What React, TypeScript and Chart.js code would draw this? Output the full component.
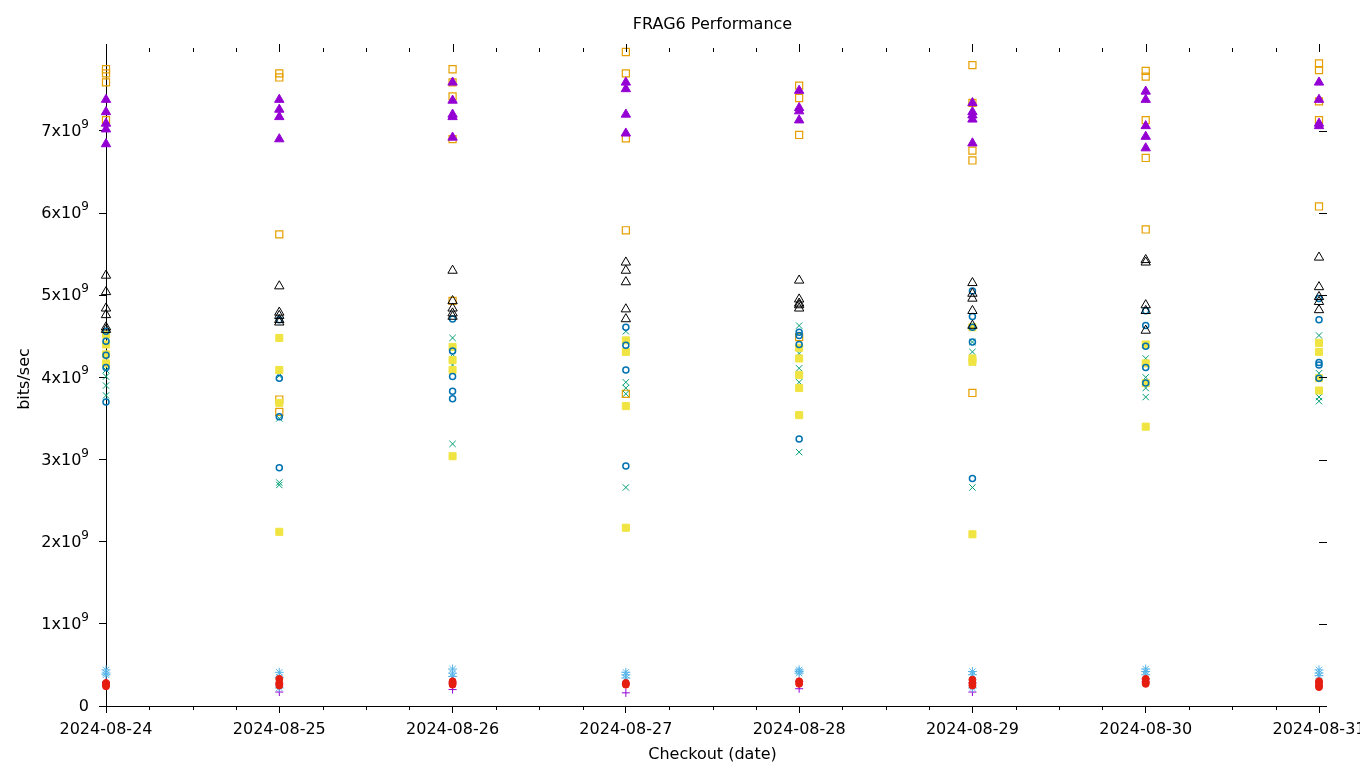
import React, { useEffect, useRef } from 'react';
import { Chart, registerables } from 'chart.js';

Chart.register(...registerables);

const chartTitle = 'FRAG6 Performance';
const xTitle = 'Checkout (date)';
const yTitle = 'bits/sec';
const dateLabels = ['2024-08-24', '2024-08-25', '2024-08-26', '2024-08-27', '2024-08-28', '2024-08-29', '2024-08-30', '2024-08-31'];
const yTickMantissas = [0, 1, 2, 3, 4, 5, 6, 7];
const yMax = 7.96e9;

// values in units of 1e9 bits/sec; one inner list per checkout date
const s1Plus = [[0.29, 0.27], [0.17, 0.27], [0.20, 0.28], [0.16, 0.27], [0.21, 0.30], [0.17, 0.28], [0.30, 0.33], [0.25, 0.30]];
const s2Cross = [[4.09, 4.01, 3.90, 3.78], [4.02, 3.50, 2.72, 2.69], [4.48, 4.28, 4.15, 3.19], [4.56, 3.94, 3.87, 3.80, 2.66], [4.63, 4.29, 4.11, 3.94, 3.09], [4.43, 4.31, 4.18, 2.66], [4.23, 4.00, 3.87, 3.76], [4.51, 4.05, 3.76, 3.71]];
const s3Star = [[0.44, 0.40, 0.38], [0.41, 0.35, 0.22], [0.45, 0.40, 0.36], [0.41, 0.38, 0.34], [0.44, 0.42, 0.40], [0.42, 0.38, 0.22], [0.45, 0.42, 0.38], [0.44, 0.40, 0.37]];
const s4OpenSquare = [[7.75, 7.70, 7.59, 7.13], [7.70, 7.65, 5.74, 3.73, 3.58], [7.75, 7.59, 7.42, 6.90, 4.93], [7.96, 7.70, 6.91, 5.79, 3.80], [7.55, 7.40, 6.95, 4.49], [7.80, 7.34, 6.76, 6.64, 3.81], [7.73, 7.66, 7.13, 6.67, 5.80], [7.82, 7.74, 7.36, 7.13, 6.08]];
const s5FilledSquare = [[4.52, 4.40, 4.28, 4.17], [4.48, 4.09, 3.69, 2.12], [4.37, 4.21, 4.09, 3.04], [4.45, 4.31, 3.65, 2.17], [4.36, 4.23, 4.03, 3.87, 3.54], [4.61, 4.23, 4.19, 2.09], [4.40, 4.17, 3.93, 3.40], [4.42, 4.31, 3.99, 3.84]];
const s6OpenCircle = [[4.56, 4.44, 4.27, 4.12, 3.70], [4.70, 3.99, 3.52, 2.90], [4.71, 4.32, 4.01, 3.83, 3.74], [4.61, 4.39, 4.09, 2.92], [4.55, 4.51, 4.40, 3.25], [5.05, 4.74, 4.61, 4.43, 2.77], [4.81, 4.63, 4.38, 4.12, 3.93], [4.96, 4.70, 4.18, 4.15, 3.99]];
const s7FilledCircle = [[0.28, 0.26, 0.24], [0.33, 0.28, 0.25], [0.30, 0.28, 0.26], [0.28, 0.26], [0.30, 0.27], [0.32, 0.28, 0.25], [0.33, 0.29, 0.27], [0.30, 0.27, 0.23]];
const s8OpenTriangle = [[5.24, 5.04, 4.84, 4.76, 4.61, 4.58], [5.11, 4.79, 4.75, 4.70, 4.67], [5.30, 4.93, 4.84, 4.78, 4.74], [5.40, 5.30, 5.16, 4.83, 4.71], [5.18, 4.95, 4.90, 4.88, 4.84], [5.15, 5.02, 4.96, 4.81, 4.63], [5.43, 5.40, 4.88, 4.81, 4.57], [5.46, 5.10, 4.98, 4.92, 4.82]];
const s9FilledTriangle = [[7.38, 7.23, 7.09, 7.02, 6.84], [7.38, 7.26, 7.17, 6.90], [7.59, 7.37, 7.20, 7.17, 6.92], [7.59, 7.51, 7.20, 6.97], [7.49, 7.28, 7.24, 7.13], [7.34, 7.23, 7.19, 7.14, 6.85], [7.48, 7.38, 7.06, 6.93, 6.79], [7.59, 7.38, 7.09, 7.06]];

const toPoints = (rows: number[][]) =>
  rows.flatMap((vals, i) => vals.map((v) => ({ x: i, y: v * 1e9 })));

const FONT = '"DejaVu Sans", sans-serif';

const gnuplotDecor = {
  id: 'gnuplotDecor',
  afterDraw(chart: any) {
    const { ctx, chartArea, scales } = chart;
    const xs = scales.x;
    const ys = scales.y;
    ctx.save();
    ctx.strokeStyle = '#000';
    ctx.lineWidth = 1;
    ctx.beginPath();
    for (let k = 0; k <= (dateLabels.length - 1) * 4; k++) {
      const d = k / 4;
      const major = k % 4 === 0;
      const px = Math.round(xs.getPixelForValue(d)) + 0.5;
      if (!major) {
        ctx.moveTo(px, chartArea.bottom);
        ctx.lineTo(px, chartArea.bottom + 4);
      }
      ctx.moveTo(px, chartArea.top);
      ctx.lineTo(px, chartArea.top - (major ? 8 : 4));
    }
    yTickMantissas.forEach((m) => {
      const py = Math.round(ys.getPixelForValue(m * 1e9)) + 0.5;
      ctx.moveTo(chartArea.right, py);
      ctx.lineTo(chartArea.right + 8, py);
    });
    ctx.stroke();

    ctx.fillStyle = '#000';
    ctx.textBaseline = 'middle';
    // y tick labels: "Nx10" with raised exponent 9
    const rightEdge = chartArea.left - 17;
    ctx.font = '12px ' + FONT;
    const supW = ctx.measureText('9').width;
    yTickMantissas.forEach((m) => {
      const py = ys.getPixelForValue(m * 1e9);
      if (m === 0) {
        ctx.font = '16px ' + FONT;
        ctx.textAlign = 'right';
        ctx.fillText('0', rightEdge, py + 1);
        return;
      }
      ctx.font = '16px ' + FONT;
      ctx.textAlign = 'right';
      ctx.fillText(`${m}x10`, rightEdge - supW, py + 1);
      ctx.font = '12px ' + FONT;
      ctx.textAlign = 'left';
      ctx.fillText('9', rightEdge - supW, py - 6);
    });

    ctx.font = '16px ' + FONT;
    ctx.textAlign = 'center';
    ctx.fillText(chartTitle, (chartArea.left + chartArea.right) / 2, 25);
    ctx.restore();
  },
};

export default function App() {
  const ref = useRef<HTMLCanvasElement | null>(null);
  useEffect(() => {
    if (!ref.current) return;
    const mk = (label: string, rows: number[][], style: string, color: string, fill: boolean, radius: number, bw: number, order: number) => ({
      label,
      data: toPoints(rows),
      pointStyle: style,
      pointRadius: radius,
      pointHoverRadius: radius,
      pointBorderWidth: bw,
      borderColor: color,
      pointBorderColor: color,
      backgroundColor: fill ? color : 'rgba(0,0,0,0)',
      pointBackgroundColor: fill ? color : 'rgba(0,0,0,0)',
      showLine: false,
      clip: false,
      order,
    });
    const chart = new Chart(ref.current, {
      type: 'scatter',
      data: {
        datasets: [
          mk('series 1', s1Plus, 'cross', '#9400d3', false, 4, 1, 9),
          mk('series 2', s2Cross, 'crossRot', '#009e73', false, 4.5, 1, 8),
          mk('series 3', s3Star, 'star', '#56b4e9', false, 4.5, 1, 7),
          mk('series 4', s4OpenSquare, 'rect', '#e69f00', false, 5, 1.2, 6),
          mk('series 5', s5FilledSquare, 'rect', '#f0e442', true, 5, 1, 5),
          mk('series 6', s6OpenCircle, 'circle', '#0072b2', false, 3, 1.5, 4),
          mk('series 7', s7FilledCircle, 'circle', '#e51e10', true, 3.5, 1, 3),
          mk('series 8', s8OpenTriangle, 'triangle', '#000000', false, 5.4, 1, 2),
          mk('series 9', s9FilledTriangle, 'triangle', '#9400d3', true, 5.4, 1, 1),
        ] as any,
      },
      options: {
        animation: false,
        responsive: false,
        events: [],
        layout: { padding: { top: 52, right: 41, left: 0, bottom: 0 } },
        plugins: {
          legend: { display: false },
          title: { display: false },
          tooltip: { enabled: false },
        },
        scales: {
          x: {
            type: 'linear',
            min: 0,
            max: dateLabels.length - 1,
            afterFit: (s: any) => {
              s.height = 62;
              s.paddingLeft = 0;
              s.paddingRight = 0;
            },
            ticks: {
              stepSize: 1,
              autoSkip: false,
              maxRotation: 0,
              minRotation: 0,
              padding: 7,
              color: '#000',
              font: { family: FONT, size: 16 },
              callback: (v: any) => dateLabels[Math.round(Number(v))] ?? '',
            },
            grid: { display: true, drawOnChartArea: false, drawTicks: true, tickLength: 7, tickColor: '#000', color: '#000' },
            border: { display: true, color: '#000', width: 1 },
            title: {
              display: true,
              text: xTitle,
              color: '#000',
              font: { family: FONT, size: 16 },
              padding: { top: 4, bottom: 4 },
            },
          },
          y: {
            type: 'linear',
            min: 0,
            max: yMax,
            afterFit: (s: any) => {
              s.width = 106;
              s.paddingTop = 0;
              s.paddingBottom = 0;
            },
            afterBuildTicks: (s: any) => {
              s.ticks = yTickMantissas.map((m) => ({ value: m * 1e9 }));
            },
            ticks: {
              display: false,
              stepSize: 1e9,
              includeBounds: false,
            },
            grid: { display: true, drawOnChartArea: false, drawTicks: true, tickLength: 7, tickColor: '#000', color: '#000' },
            border: { display: true, color: '#000', width: 1 },
            title: {
              display: true,
              text: yTitle,
              color: '#000',
              font: { family: FONT, size: 16 },
              padding: { top: 15, bottom: 0 },
            },
          },
        },
      } as any,
      plugins: [gnuplotDecor],
    });
    return () => chart.destroy();
  }, []);
  return (
    <div style={{ position: 'fixed', left: 0, top: 0, width: 1360, height: 768, background: '#fff' }}>
      <canvas ref={ref} width={1360} height={768} style={{ display: 'block' }} />
    </div>
  );
}
